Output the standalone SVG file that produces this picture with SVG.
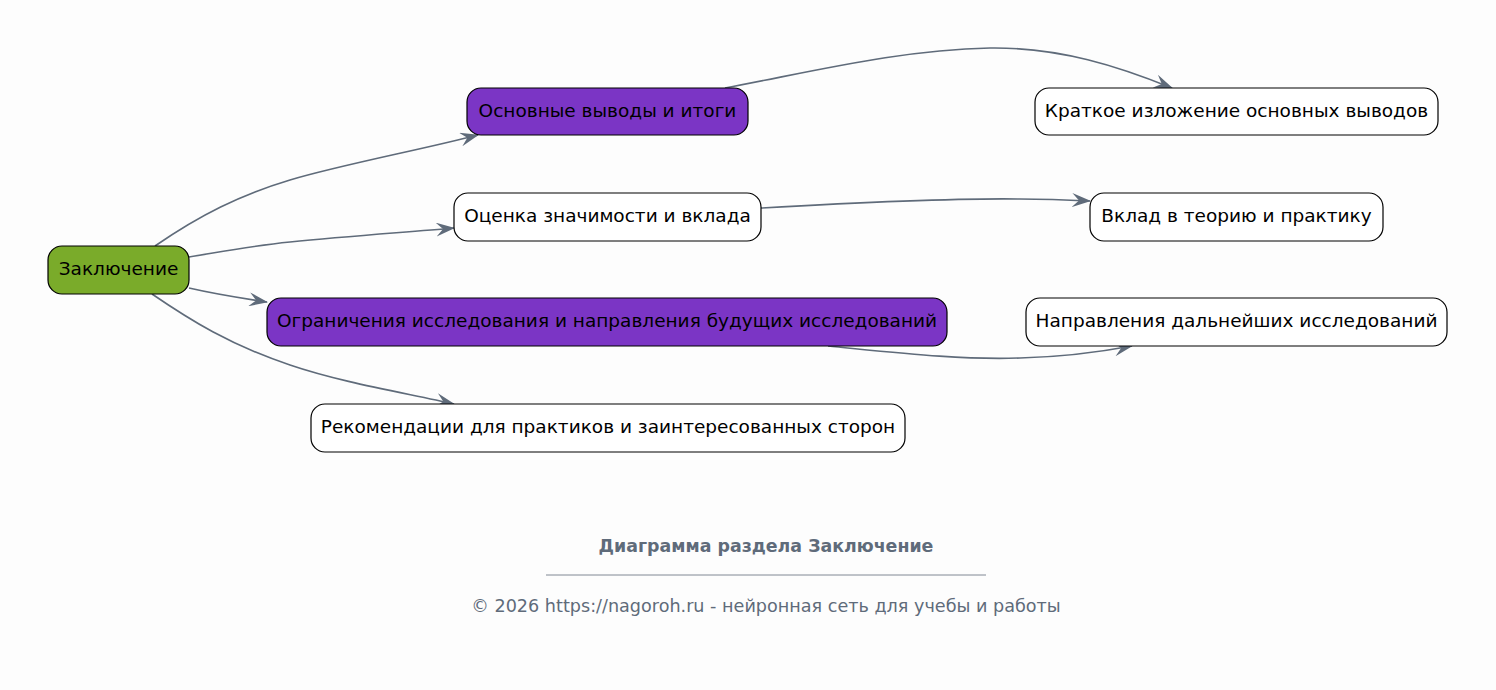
<svg xmlns="http://www.w3.org/2000/svg" width="1496" height="690" viewBox="0 0 1496 690">
<style>
.n rect{stroke:#000;stroke-width:1.2}
.n text{font-family:"DejaVu Sans",sans-serif;font-size:18.5px;fill:#000;text-anchor:middle;dominant-baseline:central}
.w{fill:#fff}
.p{fill:#7b35c5}
.g{fill:#7aab2a}
#edges path{fill:none;stroke:#5f6b7a;stroke-width:1.6;marker-end:url(#ah)}
.f{font-family:"DejaVu Sans",sans-serif;fill:#5f6b7a;text-anchor:middle}
</style>
<defs>
<marker id="ah" viewBox="0 0 20 14" refX="18" refY="7" markerWidth="20" markerHeight="14" markerUnits="userSpaceOnUse" orient="auto">
<path d="M0,0 L19,7 L0,14 L7,7 z" fill="#5f6b7a"/>
</marker>
</defs>
<rect width="1496" height="690" fill="#fdfdfd"/>
<g id="edges">
<path d="M155,246 C200,215 240,195 290,180 C340,165 420,150 478,135"/>
<path d="M189,257 C220,252 250,246 290,242 C350,236 410,232 454,228"/>
<path d="M189,288 C215,294 240,298 267,302"/>
<path d="M152,294 C190,320 230,345 290,365 C340,382 400,392 454,404"/>
<path d="M725,88 C820,70 900,50 990,48 C1060,47 1120,67 1172,88"/>
<path d="M761,208 C850,203 950,198 1020,199 C1050,199 1070,200 1090,201"/>
<path d="M828,346 C900,353 960,360 1020,358 C1060,357 1100,352 1132,346"/>
</g>
<g id="n1" class="n"><rect class="g" x="48" y="246" width="141" height="48" rx="14"/><text x="118.5" y="268.5">Заключение</text></g>
<g id="n2" class="n"><rect class="p" x="467" y="88" width="281" height="47" rx="14"/><text x="607.5" y="110">Основные выводы и итоги</text></g>
<g id="n3" class="n"><rect class="w" x="454" y="193" width="307" height="48" rx="14"/><text x="607.5" y="215.5">Оценка значимости и вклада</text></g>
<g id="n4" class="n"><rect class="p" x="267" y="298" width="680" height="48" rx="14"/><text x="607" y="320.5">Ограничения исследования и направления будущих исследований</text></g>
<g id="n5" class="n"><rect class="w" x="311" y="404" width="594" height="48" rx="14"/><text x="608" y="426.5">Рекомендации для практиков и заинтересованных сторон</text></g>
<g id="n6" class="n"><rect class="w" x="1035" y="88" width="403" height="47" rx="14"/><text x="1236.5" y="110">Краткое изложение основных выводов</text></g>
<g id="n7" class="n"><rect class="w" x="1090" y="193" width="293" height="48" rx="14"/><text x="1236.5" y="215.5">Вклад в теорию и практику</text></g>
<g id="n8" class="n"><rect class="w" x="1026" y="298" width="421" height="48" rx="14"/><text x="1236.5" y="320.5">Направления дальнейших исследований</text></g>
<g id="footer">
<text class="f" x="766" y="552" font-size="17.4" font-weight="bold">Диаграмма раздела Заключение</text>
<line x1="546" y1="575" x2="986" y2="575" stroke="#5f6b7a" stroke-width="0.8"/>
<text class="f" x="766" y="612" font-size="17.6">© 2026 https://nagoroh.ru - нейронная сеть для учебы и работы</text>
</g>
</svg>
